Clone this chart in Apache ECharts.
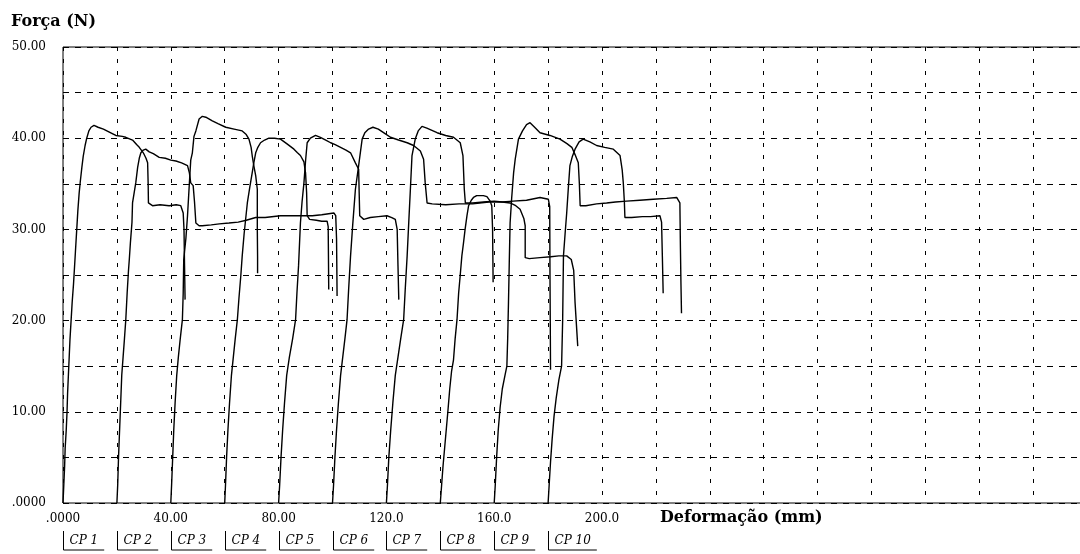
<!DOCTYPE html>
<html>
<head>
<meta charset="utf-8">
<script src="https://cdn.jsdelivr.net/npm/echarts@6/dist/echarts.min.js"></script>
<style>
  html, body { margin: 0; padding: 0; background: #fff; }
  #chart { width: 1080px; height: 554px; }
</style>
</head>
<body>
<div id="chart"></div>
<script>
// Tensile test curves: force (N) against deformation (mm) for ten specimens.
const seriesNames = ['CP 1', 'CP 2', 'CP 3', 'CP 4', 'CP 5', 'CP 6', 'CP 7', 'CP 8', 'CP 9', 'CP 10'];

const xTickLabels = ['.0000', '40.00', '80.00', '120.0', '160.0', '200.0'];
const yTickLabels = ['.0000', '10.00', '20.00', '30.00', '40.00', '50.00'];

// [deformation, force]
const cp1 = [[0,0],[0.3,2],[0.6,4],[0.8,6],[1.2,8],[1.5,10],[1.7,12],[2.0,14],[2.3,16],[2.6,18],[3.0,20],[3.4,22],[3.9,24],[4.2,25.5],[4.6,27.5],[5.1,30],[5.5,32],[6.0,34],[6.4,35.2],[7.0,36.8],[7.5,38],[8.2,39.2],[8.8,40],[9.6,40.8],[10.4,41.2],[11.5,41.4],[13,41.2],[15,41.0],[17,40.7],[19.6,40.3],[22,40.2],[23.3,40.1],[25.8,39.8],[27.3,39.3],[28.3,39.0],[29.8,38.4],[30.8,37.8],[31.4,37.3],[31.6,35],[31.7,32.9],[33.2,32.6],[36,32.7],[39.4,32.6],[42,32.7],[43.7,32.6],[44.6,31.8],[44.9,30],[45.1,26],[45.3,22.3]];
const cp2 = [[20,0],[20.3,2],[20.6,5],[21,8],[21.4,11],[21.8,14],[22.3,16],[22.8,18],[23.3,20.1],[23.8,23],[24.3,25.5],[24.6,26.7],[25,28.5],[25.6,30.8],[25.8,32.9],[26.4,34],[27,35.1],[27.7,36.8],[28.3,37.8],[28.9,38.4],[29.8,38.7],[30.7,38.8],[32,38.5],[33.5,38.3],[35.7,37.9],[38,37.8],[40,37.6],[41.9,37.5],[44,37.3],[46.2,37.0],[46.9,36.2],[47.4,35.1],[48.3,34.8],[48.8,33],[49.3,30.7],[50.5,30.4],[51.7,30.4],[55,30.5],[58,30.6],[61.6,30.7],[65,30.8],[68,31.0],[71.5,31.3],[75,31.3],[80.7,31.5],[86,31.5],[92.5,31.5],[96,31.6],[100.5,31.8],[101.2,31.5],[101.5,29],[101.6,26],[101.7,22.7]];
const cp3 = [[40,0],[40.3,2],[40.7,5],[41.1,8],[41.6,11],[42.2,14],[42.8,16],[43.5,18],[44.3,20.1],[44.6,23],[44.8,26.7],[45.6,29],[46.2,31.5],[46.8,34.6],[47.4,37.6],[48,38.4],[48.6,40.2],[49.3,40.8],[50.5,42.1],[51.7,42.4],[53,42.3],[55.4,41.9],[57.5,41.6],[60.4,41.2],[63.5,41.0],[66.5,40.8],[68,40.4],[69,39.9],[69.8,39],[70.2,38.1],[70.8,37],[71.5,35.9],[72.1,34.4],[72.1,30],[72.2,27],[72.2,25.2]];
const cp4 = [[60,0],[60.3,2],[60.7,5],[61.2,8],[61.8,11],[62.5,14],[63.2,16],[63.9,18],[64.7,20.1],[65.3,22.5],[66,25],[66.5,27.1],[67.2,29.5],[67.8,31.2],[68.4,32.9],[69.3,34.6],[70.2,36.2],[70.8,37.3],[71.5,38.4],[72.3,39.0],[73.3,39.5],[74.8,39.8],[76.4,40.0],[78.5,40.0],[80.7,39.9],[83,39.4],[85.7,38.8],[87,38.4],[88.1,38.1],[89.4,37.4],[90,36.2],[90.4,34],[90.6,31.5],[91.5,31.1],[94,31.0],[96,30.9],[98,30.9],[98.4,30.3],[98.5,27],[98.6,23.4]];
const cp5 = [[80,0],[80.4,2],[80.9,5],[81.5,8],[82.2,11],[83,14],[84,16],[85.2,18],[86.3,20.1],[86.8,23],[87.4,26],[88.1,30.7],[88.7,33],[89.4,35.1],[90,37.5],[90.6,39.5],[91.8,40.0],[93.7,40.3],[95.5,40.1],[97.5,39.8],[99.3,39.5],[101,39.3],[103,39.0],[105,38.7],[106.7,38.4],[108.5,37.3],[109.7,36.6],[109.9,34],[110.1,31.5],[111.6,31.1],[114,31.3],[117,31.4],[120.2,31.5],[122,31.3],[123.3,31.1],[124,30.0],[124.3,26],[124.6,22.3]];
const cp6 = [[100,0],[100.4,2],[100.9,5],[101.5,8],[102.2,11],[103,14],[103.8,16],[104.6,18],[105.4,20.1],[106,23.5],[106.7,27.1],[107.5,30.5],[108.5,34.4],[109.7,37],[111,39.9],[112,40.6],[113.4,41.0],[115,41.2],[117,41.0],[119.5,40.5],[121.5,40.1],[124.5,39.8],[127.7,39.5],[130.1,39.2],[132.6,38.6],[133.8,37.7],[134.4,35.1],[135.1,32.9],[137,32.8],[142,32.7],[147,32.8],[152,32.8],[158,33.0],[163,33.0],[167,33.1],[172,33.2],[177,33.5],[180.1,33.3],[180.6,32.5],[180.7,25],[180.8,20],[180.9,14.6]];
const cp7 = [[120,0],[120.4,2],[120.9,5],[121.6,8],[122.4,11],[123.3,14],[124.3,16],[125.3,18],[126.4,20.1],[127,23.5],[127.7,27.1],[128.3,30.8],[128.9,34.4],[129.5,38.1],[130.7,39.9],[131.8,40.8],[133.2,41.3],[135,41.1],[138.8,40.6],[142,40.3],[144.9,40.1],[147.4,39.5],[148.4,38.1],[148.9,34.4],[149.3,32.9],[152,32.9],[156,33.0],[160,33.1],[163,33.0],[165.9,32.9],[168,32.6],[169.6,32.2],[171,31.2],[171.5,30.4],[171.5,26.9],[173,26.8],[177,26.9],[181,27.0],[184,27.1],[186.9,27.1],[188.6,26.7],[189.5,25.5],[190,22],[191,17.2]];
const cp8 = [[140,0],[140.5,2],[141,4],[141.6,6],[142.2,8],[142.8,10],[143.5,12.5],[144.2,14.5],[144.9,15.7],[145.5,18],[146.2,20.1],[146.8,23],[147.4,25],[148,27.1],[148.6,28.5],[149.2,30],[149.9,31.5],[150.5,32.6],[151.5,33.2],[152.3,33.5],[153.5,33.7],[154.8,33.7],[156,33.7],[157.3,33.6],[158.5,33.1],[159.1,32.6],[159.4,30],[159.5,27],[159.6,24.2]];
const cp9 = [[160,0],[160.4,2],[160.9,5],[161.5,8],[162.2,10.5],[163,12.5],[164,14],[164.7,15],[165,18],[165.3,22],[165.6,26.5],[165.9,30.7],[166.5,33.5],[167.2,36.2],[167.8,37.7],[169,39.9],[170.5,40.8],[172,41.5],[173.3,41.7],[175,41.2],[177,40.6],[180.7,40.3],[184.4,39.9],[187,39.4],[188.8,39.0],[190,38.2],[191.2,37.3],[191.6,35],[191.9,32.6],[194,32.6],[198,32.8],[201.7,32.9],[205,33.0],[209.1,33.1],[214,33.2],[219,33.3],[224,33.4],[227.7,33.5],[228.9,32.9],[229.1,28],[229.3,24],[229.5,20.8]];
const cp10 = [[180,0],[180.4,2],[180.9,4.5],[181.5,7],[182.2,9.5],[183,11.5],[184,13.5],[185,15],[185.4,20],[185.7,27.1],[186.3,29.5],[186.9,31.8],[187.5,34.5],[188.1,37],[189,38],[190,38.8],[191.5,39.6],[193,39.9],[195.5,39.6],[198,39.2],[201,39.0],[204.2,38.8],[206.7,38.1],[207.5,36.5],[207.9,35.1],[208.3,33],[208.5,31.3],[211,31.3],[215,31.4],[218,31.4],[221.5,31.5],[222.1,30.8],[222.4,27],[222.7,23]];

const curves = [cp1, cp2, cp3, cp4, cp5, cp6, cp7, cp8, cp9, cp10];
const specimenStarts = [0, 20, 40, 60, 80, 100, 120, 140, 160, 180];

const serif = '"DejaVu Serif", "Liberation Serif", serif';
const ink = '#000';

const chart = echarts.init(document.getElementById('chart'), null, { renderer: 'canvas' });

chart.setOption({
  animation: false,
  backgroundColor: '#fff',
  title: {
    text: 'Força (N)',
    left: 11,
    top: 14,
    padding: 0,
    textStyle: { fontFamily: serif, fontWeight: 'bold', fontSize: 16, color: ink }
  },
  // The plot runs on past the right edge of the page.
  grid: {
    left: 63, top: 47, width: 1078, height: 456,
    outerBoundsMode: 'none', containLabel: false,
    show: true, borderColor: ink, borderWidth: 1, backgroundColor: 'transparent'
  },
  xAxis: {
    type: 'value', min: 0, max: 400, interval: 20,
    axisLine: { show: false },
    axisTick: { show: false },
    axisLabel: {
      margin: 10, color: ink, fontFamily: serif, fontSize: 12, showMaxLabel: false,
      formatter: v => (v % 40 === 0 && v / 40 < xTickLabels.length) ? xTickLabels[v / 40] : ''
    },
    splitLine: { show: true, lineStyle: { color: ink, width: 1, type: [4, 8] } }
  },
  yAxis: {
    type: 'value', min: 0, max: 50, interval: 5,
    axisLine: { show: false },
    axisTick: { show: false },
    axisLabel: {
      margin: 17, color: ink, fontFamily: serif, fontSize: 12, padding: [6, 0, 0, 0],
      formatter: v => (v % 10 === 0) ? yTickLabels[v / 10] : ''
    },
    splitLine: { show: true, lineStyle: { color: ink, width: 1, type: [6, 6] } }
  },
  series: curves.map((data, i) => ({
    name: seriesNames[i],
    type: 'line',
    data: data,
    showSymbol: false,
    symbol: 'none',
    smooth: false,
    lineStyle: { color: ink, width: 1.4 },
    emphasis: { disabled: true },
    z: 3
  }))
});

// Axis title and the bracketed specimen labels along the bottom.
const measureCtx = document.createElement('canvas').getContext('2d');
const legendFont = 'italic 12px ' + serif;
measureCtx.font = legendFont;

const gridBottom = chart.convertToPixel({ yAxisIndex: 0 }, 0);
const graphics = [{
  type: 'text',
  left: chart.convertToPixel({ xAxisIndex: 0 }, 221.5),
  top: gridBottom + 7,
  style: { text: 'Deformação (mm)', font: 'bold 16px ' + serif, fill: ink }
}];

seriesNames.forEach((name, i) => {
  const px = Math.round(chart.convertToPixel({ xAxisIndex: 0 }, specimenStarts[i])) + 0.5;
  const w = measureCtx.measureText(name).width;
  graphics.push({
    type: 'group',
    x: px,
    y: gridBottom + 38,
    children: [
      {
        type: 'polyline',
        shape: { points: [[0, -10], [0, 9], [w + 12, 9]] },
        style: { stroke: ink, lineWidth: 1, fill: null }
      },
      {
        type: 'text',
        x: 6, y: 0,
        style: { text: name, font: legendFont, fill: ink, verticalAlign: 'middle', align: 'left' }
      }
    ]
  });
});

chart.setOption({ graphic: graphics });
</script>
</body>
</html>
